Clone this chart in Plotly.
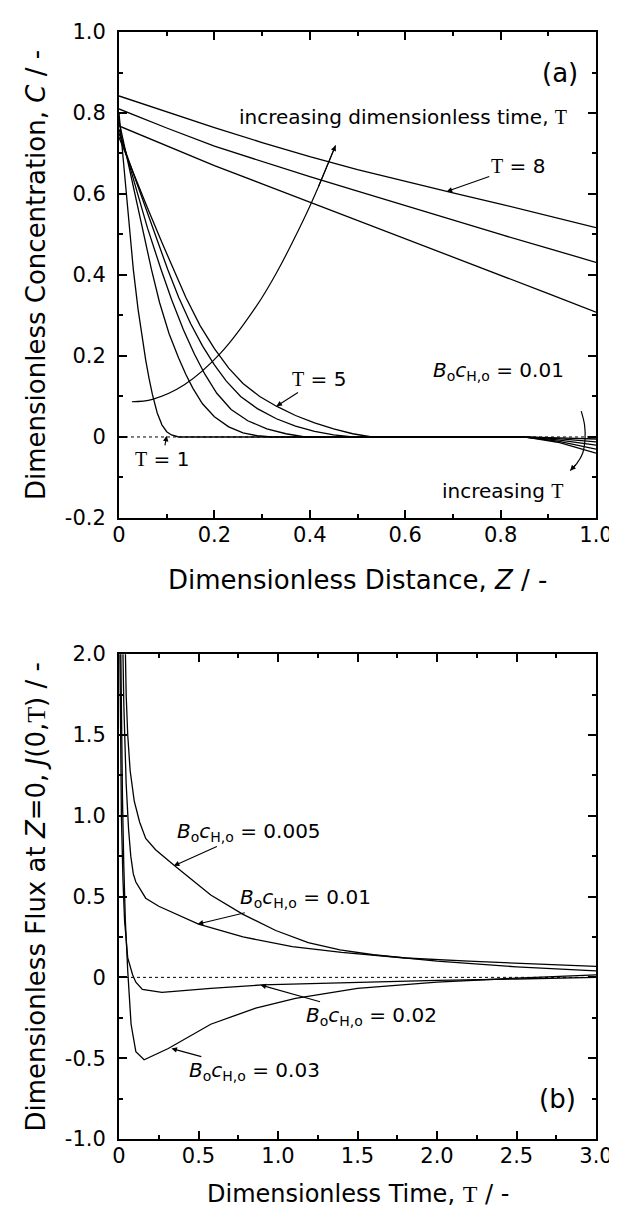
import plotly.graph_objects as go
from plotly.subplots import make_subplots

# ---- (a) concentration profiles C(Z) at Bo*cH,o = 0.01 ----
z_t1 = [0, 0.01, 0.02, 0.03, 0.04, 0.048, 0.056, 0.063, 0.07, 0.08, 0.09, 0.10, 0.11, 0.125, 0.3, 0.6, 0.85, 0.92, 1.0]
c_t1 = [0.80, 0.665, 0.535, 0.414, 0.315, 0.25, 0.19, 0.145, 0.105, 0.06, 0.03, 0.013, 0.005, 0.0, 0.0, 0.0, 0.0, -0.002, -0.005]

z_t2 = [0, 0.02, 0.04, 0.055, 0.068, 0.085, 0.105, 0.125, 0.14, 0.155, 0.175, 0.2, 0.23, 0.26, 0.29, 0.32, 0.6, 0.85, 0.92, 1.0]
c_t2 = [0.78, 0.67, 0.56, 0.48, 0.414, 0.332, 0.255, 0.195, 0.155, 0.12, 0.082, 0.05, 0.025, 0.01, 0.003, 0.0, 0.0, 0.0, -0.004, -0.012]

z_t3 = [0, 0.03, 0.06, 0.088, 0.11, 0.135, 0.158, 0.18, 0.205, 0.235, 0.27, 0.31, 0.35, 0.39, 0.6, 0.85, 0.92, 1.0]
c_t3 = [0.76, 0.635, 0.515, 0.414, 0.34, 0.265, 0.205, 0.155, 0.108, 0.068, 0.04, 0.02, 0.008, 0.0, 0.0, 0.0, -0.007, -0.02]

z_t4 = [0, 0.03, 0.06, 0.085, 0.102, 0.125, 0.15, 0.175, 0.2, 0.225, 0.255, 0.29, 0.33, 0.37, 0.41, 0.45, 0.49, 0.85, 0.92, 1.0]
c_t4 = [0.75, 0.65, 0.55, 0.47, 0.414, 0.345, 0.28, 0.225, 0.178, 0.138, 0.10, 0.07, 0.045, 0.027, 0.014, 0.005, 0.0, 0.0, -0.01, -0.03]

z_t5 = [0, 0.03, 0.06, 0.09, 0.114, 0.14, 0.17, 0.2, 0.23, 0.26, 0.295, 0.33, 0.37, 0.41, 0.45, 0.49, 0.53, 0.85, 0.92, 1.0]
c_t5 = [0.74, 0.65, 0.565, 0.48, 0.414, 0.345, 0.275, 0.218, 0.17, 0.132, 0.10, 0.076, 0.053, 0.035, 0.02, 0.008, 0.0, 0.0, -0.013, -0.04]

z_long = [0, 0.1, 0.2, 0.3, 0.4, 0.5, 0.6, 0.7, 0.8, 0.9, 1.0]
c_t6 = [0.768, 0.718, 0.670, 0.625, 0.580, 0.535, 0.490, 0.445, 0.400, 0.354, 0.308]
c_t7 = [0.810, 0.763, 0.718, 0.680, 0.643, 0.607, 0.571, 0.536, 0.500, 0.466, 0.431]
c_t8 = [0.842, 0.803, 0.764, 0.727, 0.692, 0.660, 0.631, 0.603, 0.575, 0.546, 0.517]

# guide arrows drawn on panel (a)
z_guide = [0.027, 0.07, 0.137, 0.213, 0.288, 0.33, 0.385, 0.417, 0.454]
c_guide = [0.087, 0.093, 0.129, 0.207, 0.323, 0.405, 0.532, 0.615, 0.72]
z_guide_end = [0.969, 0.976, 0.977, 0.972, 0.96, 0.946]
c_guide_end = [0.064, 0.03, -0.005, -0.04, -0.065, -0.083]

# ---- (b) flux at Z=0, J(0,T) ----
t_005 = [0.035, 0.04, 0.045, 0.055, 0.07, 0.096, 0.13, 0.168, 0.23, 0.35, 0.46, 0.577, 0.78, 0.986, 1.19, 1.39, 1.6, 2.0, 2.5, 3.0]
j_005 = [2.3, 2.0, 1.75, 1.5, 1.28, 1.09, 0.96, 0.86, 0.79, 0.69, 0.60, 0.51, 0.39, 0.29, 0.215, 0.17, 0.14, 0.10, 0.065, 0.04]

t_01 = [0.02, 0.03, 0.045, 0.06, 0.074, 0.09, 0.106, 0.168, 0.25, 0.37, 0.5, 0.78, 1.09, 1.4, 1.8, 2.2, 2.6, 3.0]
j_01 = [2.3, 1.7, 1.2, 0.92, 0.75, 0.64, 0.59, 0.49, 0.44, 0.385, 0.33, 0.25, 0.19, 0.155, 0.12, 0.10, 0.085, 0.068]

t_02 = [0.003, 0.008, 0.015, 0.025, 0.035, 0.055, 0.086, 0.106, 0.147, 0.27, 0.577, 0.9, 1.5, 2.0, 2.5, 3.0]
j_02 = [2.3, 1.6, 1.0, 0.6, 0.35, 0.12, 0.015, -0.03, -0.075, -0.093, -0.068, -0.047, -0.03, -0.018, -0.01, 0.0]

t_03 = [0.008, 0.015, 0.022, 0.03, 0.04, 0.055, 0.076, 0.106, 0.158, 0.31, 0.577, 0.86, 1.11, 1.5, 2.0, 2.5, 3.0]
j_03 = [2.3, 1.6, 1.1, 0.7, 0.35, 0.04, -0.29, -0.46, -0.51, -0.44, -0.29, -0.19, -0.13, -0.068, -0.03, -0.005, 0.015]

z_ticks = [0, 0.2, 0.4, 0.6, 0.8, 1.0]
z_ticktext = ['0', '0.2', '0.4', '0.6', '0.8', '1.0']
c_ticks = [-0.2, 0, 0.2, 0.4, 0.6, 0.8, 1.0]
c_ticktext = ['-0.2', '0', '0.2', '0.4', '0.6', '0.8', '1.0']
t_ticks = [0, 0.5, 1.0, 1.5, 2.0, 2.5, 3.0]
t_ticktext = ['0', '0.5', '1.0', '1.5', '2.0', '2.5', '3.0']
j_ticks = [-1.0, -0.5, 0, 0.5, 1.0, 1.5, 2.0]
j_ticktext = ['-1.0', '-0.5', '0', '0.5', '1.0', '1.5', '2.0']

FONT = 'DejaVu Sans'
TAU = '<span style="font-family:Liberation Serif">\u03a4</span>'
BC = '<i>B</i><sub>o</sub><i>c</i><sub>H,o</sub>'
LINE = dict(color='black', width=1.3)

fig = make_subplots(rows=2, cols=1)

for z, c in [(z_t1, c_t1), (z_t2, c_t2), (z_t3, c_t3), (z_t4, c_t4), (z_t5, c_t5),
             (z_long, c_t6), (z_long, c_t7), (z_long, c_t8)]:
    fig.add_trace(go.Scatter(x=z, y=c, mode='lines', line=LINE), row=1, col=1)
fig.add_trace(go.Scatter(x=[0, 1], y=[0, 0], mode='lines', line=dict(color='black', width=1, dash='dot')), row=1, col=1)
fig.add_trace(go.Scatter(x=z_guide, y=c_guide, mode='lines', line=dict(color='black', width=1.2, shape='spline')), row=1, col=1)
fig.add_trace(go.Scatter(x=z_guide_end, y=c_guide_end, mode='lines', line=dict(color='black', width=1.2, shape='spline')), row=1, col=1)

for t, j in [(t_005, j_005), (t_01, j_01), (t_02, j_02), (t_03, j_03)]:
    fig.add_trace(go.Scatter(x=t, y=j, mode='lines', line=LINE), row=2, col=1)
fig.add_trace(go.Scatter(x=[0, 3], y=[0, 0], mode='lines', line=dict(color='black', width=1, dash='dot')), row=2, col=1)

axis_style = dict(showline=True, linecolor='black', linewidth=2, mirror='ticks', ticks='inside',
                  ticklen=8, tickwidth=1.5, tickcolor='black', showgrid=False, zeroline=False,
                  tickfont=dict(family=FONT, size=21, color='black'))
fig.update_xaxes(**axis_style)
fig.update_yaxes(**axis_style)

fig.update_xaxes(range=[0, 1], tickvals=z_ticks, ticktext=z_ticktext, ticklabelstandoff=-3,
                 minor=dict(dtick=0.1, ticks='inside', ticklen=4, tickcolor='black'), row=1, col=1)
fig.update_yaxes(range=[-0.2, 1.0], tickvals=c_ticks, ticktext=c_ticktext, ticklabelstandoff=7,
                 minor=dict(dtick=0.1, ticks='inside', ticklen=4, tickcolor='black'),
                 domain=[0.561, 1.0], row=1, col=1)
fig.update_xaxes(range=[0, 3], tickvals=t_ticks, ticktext=t_ticktext, ticklabelstandoff=-3,
                 minor=dict(dtick=0.25, ticks='inside', ticklen=4, tickcolor='black'), row=2, col=1)
fig.update_yaxes(range=[-1.0, 2.0], tickvals=j_ticks, ticktext=j_ticktext, ticklabelstandoff=7,
                 minor=dict(dtick=0.25, ticks='inside', ticklen=4, tickcolor='black'),
                 domain=[0.0, 0.438], row=2, col=1)

ARROW = dict(showarrow=True, arrowhead=2, arrowsize=1, arrowwidth=1.1, arrowcolor='black', standoff=0)
lbl = dict(family=FONT, size=20, color='black')
ttl = dict(family=FONT, size=26, color='black')

ann = [
    # panel (a)
    dict(x=0.924, y=0.90, xref='x', yref='y', text='(a)', showarrow=False, font=ttl),
    dict(x=0.595, y=0.79, xref='x', yref='y', text='increasing dimensionless time, ' + TAU, showarrow=False, font=lbl),
    dict(x=0.687, y=0.606, xref='x', yref='y', ax=0.836, ay=0.668, axref='x', ayref='y',
         text=TAU + ' = 8', font=lbl, **ARROW),
    dict(x=0.33, y=0.076, xref='x', yref='y', ax=0.42, ay=0.143, axref='x', ayref='y',
         text=TAU + ' = 5', font=lbl, **ARROW),
    dict(x=0.10, y=0.003, xref='x', yref='y', ax=0.091, ay=-0.054, axref='x', ayref='y',
         text=TAU + ' = 1', font=lbl, **ARROW),
    dict(x=0.795, y=0.163, xref='x', yref='y', text=BC + ' = 0.01', showarrow=False, font=lbl),
    dict(x=0.804, y=-0.133, xref='x', yref='y', text='increasing ' + TAU, showarrow=False, font=lbl),
    dict(x=z_guide[-1], y=c_guide[-1], xref='x', yref='y', ax=z_guide[-2], ay=c_guide[-2], axref='x', ayref='y',
         text='', **ARROW),
    dict(x=z_guide_end[-1], y=c_guide_end[-1], xref='x', yref='y', ax=z_guide_end[-2], ay=c_guide_end[-2],
         axref='x', ayref='y', text='', **ARROW),
    # panel (b)
    dict(x=2.755, y=-0.75, xref='x2', yref='y2', text='(b)', showarrow=False, font=ttl),
    dict(x=0.345, y=0.69, xref='x2', yref='y2', ax=0.817, ay=0.90, axref='x2', ayref='y2',
         text=BC + ' = 0.005', font=lbl, **ARROW),
    dict(x=0.495, y=0.33, xref='x2', yref='y2', ax=1.17, ay=0.49, axref='x2', ayref='y2',
         text=BC + ' = 0.01', font=lbl, **ARROW),
    dict(x=0.89, y=-0.047, xref='x2', yref='y2', ax=1.59, ay=-0.24, axref='x2', ayref='y2',
         text=BC + ' = 0.02', font=lbl, **ARROW),
    dict(x=0.33, y=-0.44, xref='x2', yref='y2', ax=0.853, ay=-0.58, axref='x2', ayref='y2',
         text=BC + ' = 0.03', font=lbl, **ARROW),
    # axis titles
    dict(x=0.5, y=0, xref='x domain', yref='y domain', yshift=-62, xanchor='center', yanchor='middle',
         showarrow=False, text='Dimensionless Distance, <i>Z</i> / -', font=ttl),
    dict(x=0, y=0.5, xref='x domain', yref='y domain', xshift=-83, xanchor='center', yanchor='middle',
         showarrow=False, textangle=-90, text='Dimensionless Concentration, <i>C</i> / -', font=ttl),
    dict(x=0.5, y=0, xref='x2 domain', yref='y2 domain', yshift=-55, xanchor='center', yanchor='middle',
         showarrow=False, text='Dimensionless Time, ' + TAU + ' / -', font=dict(family=FONT, size=24, color='black')),
    dict(x=0, y=0.5, xref='x2 domain', yref='y2 domain', xshift=-83, xanchor='center', yanchor='middle',
         showarrow=False, textangle=-90,
         text='Dimensionless Flux at <i>Z</i>=0, <i>J</i>(0,' + TAU + ') / -', font=ttl),
]

fig.update_layout(
    width=617, height=1210,
    margin=dict(l=111, r=17, t=22, b=79),
    paper_bgcolor='white', plot_bgcolor='white',
    showlegend=False,
    font=dict(family=FONT, color='black'),
    annotations=ann,
)

fig.write_html("out.html")
